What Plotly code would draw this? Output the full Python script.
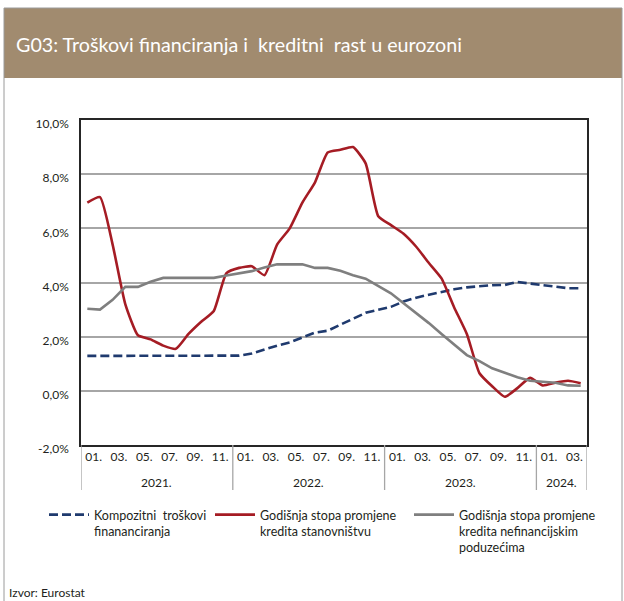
import plotly.graph_objects as go

# ---------------- data ----------------
MONTH_LABELS = ["01.", "03.", "05.", "07.", "09.", "11."] * 3 + ["01.", "03."]
YEARS = ["2021.", "2022.", "2023.", "2024."]
YEAR_MONTHS = [12, 12, 12, 4]

# monthly values, 2021-01 .. 2024-04 (40 months)
composite_cost = [1.29, 1.29, 1.29, 1.29, 1.29, 1.29, 1.29, 1.29, 1.29, 1.29, 1.29, 1.29,
                  1.30, 1.38, 1.53, 1.67, 1.79, 1.98, 2.15, 2.22, 2.44, 2.65, 2.88, 2.99,
                  3.10, 3.30, 3.44, 3.55, 3.65, 3.75, 3.82, 3.87, 3.90, 3.91, 4.02, 3.96,
                  3.90, 3.84, 3.79, 3.79]
households = [6.95, 7.15, 5.40, 3.20, 2.05, 1.90, 1.67, 1.55, 2.10, 2.55, 2.95, 4.35,
              4.54, 4.60, 4.27, 5.40, 6.00, 6.95, 7.70, 8.80, 8.90, 9.00, 8.40, 6.45,
              6.12, 5.80, 5.32, 4.72, 4.15, 3.08, 2.10, 0.65, 0.17, -0.22, 0.10, 0.48,
              0.20, 0.30, 0.37, 0.28]
corporates = [3.03, 3.00, 3.36, 3.84, 3.84, 4.03, 4.17, 4.17, 4.17, 4.17, 4.17, 4.26,
              4.33, 4.42, 4.55, 4.67, 4.67, 4.67, 4.54, 4.54, 4.43, 4.27, 4.14, 3.87,
              3.60, 3.23, 2.88, 2.50, 2.10, 1.70, 1.32, 1.10, 0.83, 0.67, 0.50, 0.37,
              0.34, 0.30, 0.20, 0.19]

Y_TICKS = [-2, 0, 2, 4, 6, 8, 10]
Y_TICK_LABELS = ["-2,0%", "0,0%", "2,0%", "4,0%", "6,0%", "8,0%", "10,0%"]

NAMES = ["Kompozitni  troškovi<br>finananciranja",
         "Godišnja stopa promjene<br>kredita stanovništvu",
         "Godišnja stopa promjene<br>kredita nefinancijskim<br>poduzećima"]

TITLE = "G03: Troškovi financiranja i  kreditni  rast u eurozoni"
SOURCE = "Izvor: Eurostat"

# ---------------- figure ----------------
W, H = 624, 601
L, R, T, B = 81, 587, 120, 445
pw, ph = R - L, B - T

def px(x):
    return (x - L) / pw

def py(y):
    return (B - y) / ph

n = len(households)
xs = list(range(n))

FONT = "Lato, 'Open Sans', sans-serif"
TXT = "#231f20"

fig = go.Figure()
fig.add_trace(go.Scatter(x=xs, y=composite_cost, mode="lines", name=NAMES[0],
                         line=dict(color="#1f3a6e", width=2.6, dash="9px,4px"),
                         legend="legend"))
fig.add_trace(go.Scatter(x=xs, y=households, mode="lines", name=NAMES[1],
                         line=dict(color="#a51c24", width=2.6, shape="spline", smoothing=0.5),
                         legend="legend2"))
fig.add_trace(go.Scatter(x=xs, y=corporates, mode="lines", name=NAMES[2],
                         line=dict(color="#7f7f7f", width=2.6),
                         legend="legend3"))

shapes = []
annotations = []

# header band
shapes.append(dict(type="rect", xref="paper", yref="paper",
                   x0=px(4), x1=px(622), y0=py(78), y1=py(8),
                   fillcolor="#a18b6f", line=dict(width=0), layer="below"))
# outer frame
shapes.append(dict(type="rect", xref="paper", yref="paper",
                   x0=px(4), x1=px(622), y0=py(604), y1=py(8),
                   fillcolor="rgba(0,0,0,0)", line=dict(color="#9a9a9a", width=1)))
annotations.append(dict(text=TITLE, xref="paper", yref="paper", x=px(14), y=py(45),
                        xanchor="left", yanchor="middle", showarrow=False,
                        font=dict(family=FONT, size=19.7, color="white")))

# year separators and labels
start = -0.5
bounds = [start]
for cnt in YEAR_MONTHS:
    bounds.append(bounds[-1] + cnt)
for b in bounds:
    shapes.append(dict(type="line", xref="x", yref="paper", x0=b, x1=b,
                       y0=0, y1=py(490), line=dict(color="#a6a6a6", width=1.3)))
for i, yr in enumerate(YEARS):
    annotations.append(dict(text=yr, xref="x", yref="paper",
                            x=(bounds[i] + bounds[i + 1]) / 2, y=py(482),
                            xanchor="center", yanchor="middle", showarrow=False,
                            font=dict(family=FONT, size=12, color=TXT)))

annotations.append(dict(text=SOURCE, xref="paper", yref="paper", x=px(7), y=py(592),
                        xanchor="left", yanchor="middle", showarrow=False,
                        font=dict(family=FONT, size=12, color=TXT)))

tickvals = []
k = 0
for cnt in YEAR_MONTHS:
    for m in range(0, cnt, 2):
        tickvals.append(k + m + 0.5)
    k += cnt

leg_common = dict(orientation="v", xanchor="left", yanchor="top", bgcolor="rgba(0,0,0,0)",
                  borderwidth=0, valign="top", itemwidth=40,
                  font=dict(family=FONT, size=12.5, color=TXT), tracegroupgap=0)

fig.update_layout(
    width=W, height=H,
    margin=dict(l=L, r=W - R, t=T, b=H - B, pad=0),
    paper_bgcolor="white", plot_bgcolor="white",
    font=dict(family=FONT, size=12, color=TXT),
    showlegend=True,
    legend=dict(x=px(44), y=py(500), **leg_common),
    legend2=dict(x=px(210), y=py(500), **leg_common),
    legend3=dict(x=px(409), y=py(500), **leg_common),
    shapes=shapes,
    annotations=annotations,
    xaxis=dict(range=[-0.5, n - 0.5], tickvals=tickvals, ticktext=MONTH_LABELS,
               showgrid=False, zeroline=False, ticks="",
               showline=True, mirror=True, linecolor="#262626", linewidth=1.5,
               tickfont=dict(family=FONT, size=12, color=TXT)),
    yaxis=dict(range=[-2, 10], tickvals=Y_TICKS, ticktext=Y_TICK_LABELS,
               showgrid=True, gridcolor="#a6a6a6", gridwidth=1.5, zeroline=False,
               ticks="", showline=True, mirror=True, linecolor="#262626", linewidth=1.5,
               ticklabelstandoff=8, ticklabelshift=4,
               tickfont=dict(family=FONT, size=12, color=TXT)),
)

fig.write_html("out.html", config={"displayModeBar": False},
               post_script="document.body.style.margin='0';document.body.style.padding='0';")
